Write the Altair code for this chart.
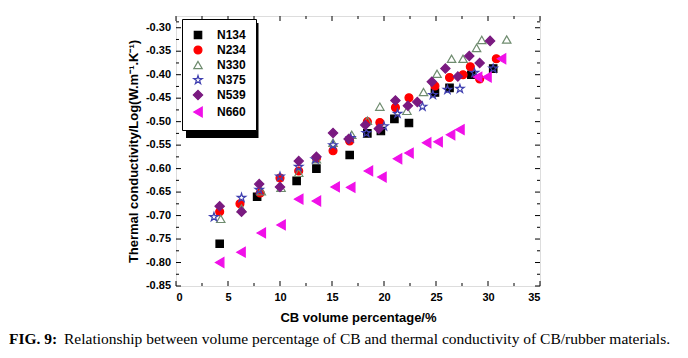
import altair as alt
import pandas as pd

series_names = ["N134", "N234", "N330", "N375", "N539", "N660"]

n134_x = [4.2, 7.8, 11.6, 13.5, 16.7, 18.4, 19.7, 21.0, 22.4, 24.9, 26.3, 28.4, 30.5]
n134_y = [-0.760, -0.660, -0.626, -0.600, -0.571, -0.525, -0.520, -0.494, -0.503, -0.438, -0.428, -0.400, -0.387]

n234_x = [4.2, 6.15, 8.1, 10.0, 11.8, 13.5, 15.1, 16.7, 18.4, 19.6, 21.1, 22.4, 24.9, 26.3, 27.6, 28.3, 29.2, 30.8]
n234_y = [-0.692, -0.675, -0.652, -0.620, -0.605, -0.578, -0.562, -0.541, -0.500, -0.502, -0.470, -0.449, -0.424, -0.406, -0.400, -0.383, -0.409, -0.366]

n330_x = [4.3, 6.3, 8.2, 10.1, 11.8, 13.5, 15.1, 16.9, 18.4, 19.6, 22.2, 23.8, 25.1, 26.5, 27.6, 28.9, 29.4, 31.8]
n330_y = [-0.707, -0.685, -0.648, -0.641, -0.609, -0.580, -0.545, -0.528, -0.498, -0.468, -0.477, -0.437, -0.398, -0.366, -0.366, -0.343, -0.326, -0.325]

n375_x = [3.65, 6.3, 8.0, 10.0, 11.8, 13.4, 15.1, 16.8, 18.3, 20.0, 21.3, 23.7, 24.7, 26.1, 27.3, 28.7, 30.5]
n375_y = [-0.703, -0.662, -0.645, -0.617, -0.596, -0.580, -0.550, -0.535, -0.524, -0.510, -0.483, -0.468, -0.443, -0.432, -0.430, -0.396, -0.387]

n539_x = [4.2, 6.3, 8.0, 10.0, 11.8, 13.5, 15.1, 16.6, 18.2, 19.5, 21.1, 22.3, 23.2, 24.6, 25.9, 27.1, 28.2, 29.2, 30.2]
n539_y = [-0.680, -0.692, -0.633, -0.639, -0.584, -0.575, -0.524, -0.537, -0.507, -0.515, -0.455, -0.466, -0.458, -0.415, -0.387, -0.404, -0.360, -0.375, -0.328]

n660_x = [4.2, 6.25, 8.2, 10.1, 11.8, 13.5, 15.3, 16.8, 18.5, 19.8, 21.3, 22.4, 24.1, 25.2, 26.4, 27.3, 29.0, 29.9, 31.3]
n660_y = [-0.800, -0.778, -0.737, -0.720, -0.665, -0.669, -0.639, -0.640, -0.605, -0.618, -0.579, -0.567, -0.545, -0.543, -0.528, -0.517, -0.405, -0.405, -0.366]

x_major = [0, 5, 10, 15, 20, 25, 30, 35]
x_minor = [2.5, 7.5, 12.5, 17.5, 22.5, 27.5, 32.5]
y_major = [-0.85, -0.80, -0.75, -0.70, -0.65, -0.60, -0.55, -0.50, -0.45, -0.40, -0.35, -0.30]
y_major_labels = ["-0.85", "-0.80", "-0.75", "-0.70", "-0.65", "-0.60",
                  "-0.55", "-0.50", "-0.45", "-0.40", "-0.35", "-0.30"]
y_minor = [-0.825, -0.775, -0.725, -0.675, -0.625, -0.575, -0.525, -0.475, -0.425, -0.375, -0.325, -0.2875]

all_x = [n134_x, n234_x, n330_x, n375_x, n539_x, n660_x]
all_y = [n134_y, n234_y, n330_y, n375_y, n539_y, n660_y]
rows = []
for name, xs_, ys_ in zip(series_names, all_x, all_y):
    for a, b in zip(xs_, ys_):
        rows.append({"series": name, "x": a, "y": b})
df = pd.DataFrame(rows)

STAR = ("M0,-1L0.2245,-0.309L0.951,-0.309L0.363,0.118L0.588,0.809L0,0.382"
        "L-0.588,0.809L-0.363,0.118L-0.951,-0.309L-0.2245,-0.309Z")

W, H = 364, 270
FONT = "Liberation Sans"
xsc = alt.Scale(domain=[0, 35], nice=False, zero=False)
ysc = alt.Scale(domain=[-0.85, -0.275], nice=False, zero=False)

leg = alt.Legend(title=None, orient="none", legendX=6, legendY=3,
                 fillColor="white", strokeColor="black",
                 padding=10, rowPadding=1, labelFontSize=12, labelFontWeight="bold",
                 labelFont=FONT, labelColor="black", labelOffset=13,
                 symbolStrokeWidth=1.2)

points = alt.Chart(df).mark_point(opacity=1, strokeWidth=1.2).encode(
    x=alt.X("x:Q", scale=xsc,
            axis=alt.Axis(values=x_major, ticks=False, domain=False, grid=False,
                          labelFontSize=11, labelFont=FONT, labelColor="black",
                          labelFontWeight="bold",
                          labelPadding=5, title="CB volume percentage/%",
                          titleFont=FONT, titleFontSize=13, titleFontWeight="bold",
                          titlePadding=9, titleColor="black")),
    y=alt.Y("y:Q", scale=ysc,
            axis=alt.Axis(values=y_major, ticks=False, domain=False, grid=False,
                          labels=False,
                          title="Thermal conductivity/Log(W.m\u207b\u00b9.K\u207b\u00b9)",
                          titleFont=FONT, titleFontSize=13, titleFontWeight="bold",
                          titlePadding=36, titleColor="black")),
    shape=alt.Shape("series:N", scale=alt.Scale(domain=series_names,
                    range=["square", "circle", "triangle-up", STAR, "diamond", "triangle-left"]),
                    legend=leg),
    stroke=alt.Stroke("series:N", scale=alt.Scale(domain=series_names,
                      range=["#000000", "#ff0000", "#6f8c6f", "#4040b0", "#7a1a80", "#f010e8"]),
                      legend=leg),
    fill=alt.Fill("series:N", scale=alt.Scale(domain=series_names,
                  range=["#000000", "#ff0000", "transparent", "transparent", "#7a1a80", "#f010e8"]),
                  legend=leg),
    size=alt.Size("series:N", scale=alt.Scale(domain=series_names,
                  range=[55, 95, 80, 80, 60, 25]), legend=leg),
)

ylabels = alt.Chart(pd.DataFrame({"y": y_major, "lab": y_major_labels})).mark_text(
    align="right", baseline="middle", font=FONT, fontSize=11,
    fontWeight="bold", color="black").encode(
    y=alt.Y("y:Q", scale=ysc), x=alt.value(-5), text="lab:N")

def hticks(vals, length, top):
    d = pd.DataFrame({"x": vals})
    y0 = 0 if top else H
    y1 = length if top else H - length
    return alt.Chart(d).mark_rule(color="black", strokeWidth=1).encode(
        x=alt.X("x:Q", scale=xsc), y=alt.value(y0), y2=alt.value(y1))

def vticks(vals, length, right):
    d = pd.DataFrame({"y": vals})
    x0 = W if right else 0
    x1 = W - length if right else length
    return alt.Chart(d).mark_rule(color="black", strokeWidth=1).encode(
        y=alt.Y("y:Q", scale=ysc), x=alt.value(x0), x2=alt.value(x1))

ticks = [hticks(x_major, 5, False), hticks(x_minor, 3, False),
         hticks(x_major, 5, True), hticks(x_minor, 3, True),
         vticks(y_major, 5, False), vticks(y_minor, 3, False),
         vticks(y_major, 5, True), vticks(y_minor, 3, True)]

shadow = alt.Chart(pd.DataFrame({"s": [1]})).mark_rect(color="black").encode(
    x=alt.value(10), x2=alt.value(82.5), y=alt.value(7), y2=alt.value(122))

one = pd.DataFrame({"a": [0]})
cap1 = alt.Chart(one).mark_text(
    text="FIG. 9:", font="Liberation Serif", fontSize=15.5, fontWeight="bold",
    align="left", baseline="middle", color="black").encode(
    x=alt.value(-167), y=alt.value(323))
cap2 = alt.Chart(one).mark_text(
    text="Relationship between volume percentage of CB and thermal conductivity of CB/rubber materials.",
    font="Liberation Serif", fontSize=15.5, align="left", baseline="middle",
    color="black").encode(x=alt.value(-112), y=alt.value(323))

chart = alt.layer(shadow, points, *ticks, ylabels, cap1, cap2).properties(
    width=W, height=H, autosize="none",
    padding={"left": 168, "top": 8, "right": 140, "bottom": 64},
).configure_view(stroke="black", strokeWidth=1).configure(background="white")

chart.save("out.html", embed_options={"renderer": "svg", "actions": False})
